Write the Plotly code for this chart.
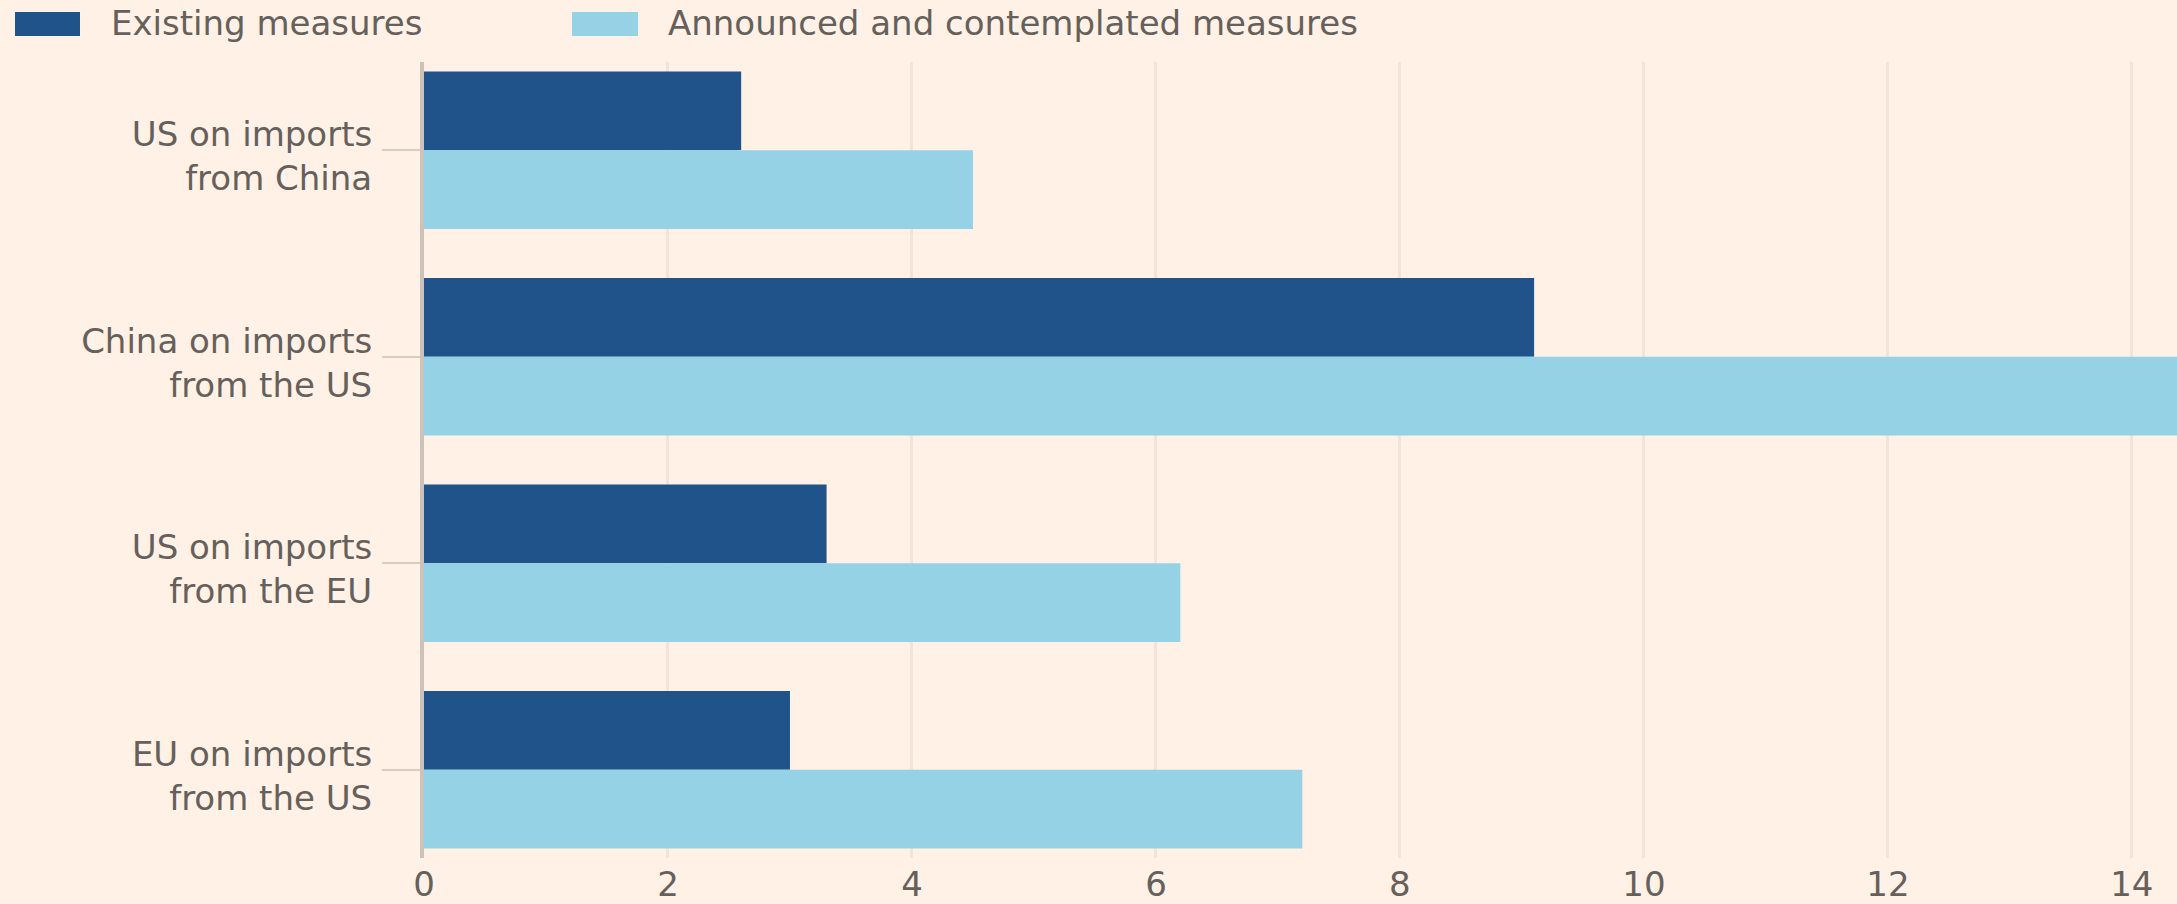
import plotly.graph_objects as go

# Values
categories = [
    "US on imports<br>from China",
    "China on imports<br>from the US",
    "US on imports<br>from the EU",
    "EU on imports<br>from the US",
]
existing = [2.6, 9.1, 3.3, 3.0]
announced = [4.5, 14.6, 6.2, 7.2]
series_names = ["Existing measures", "Announced and contemplated measures"]
x_ticks = [0, 2, 4, 6, 8, 10, 12, 14]

BG = "#fff1e5"
DARK = "#1f538a"
LIGHT = "#96d2e6"
TEXT = "#66605c"
FONT = "DejaVu Sans"

W, H = 2177, 904
L, R, T, B = 424, 0, 62, 46
plot_w = W - L - R
plot_h = H - T - B


def px_x(p):
    return (p - L) / plot_w


def px_y(p):
    return 1 - (p - T) / plot_h


fig = go.Figure()
fig.add_trace(go.Bar(y=categories, x=existing, orientation="h", name=series_names[0],
                     marker=dict(color=DARK, line=dict(width=0))))
fig.add_trace(go.Bar(y=categories, x=announced, orientation="h", name=series_names[1],
                     marker=dict(color=LIGHT, line=dict(width=0))))

# hand-made legend with wide swatches like the original
legend_items = [(15, 80, 109), (572, 638, 666)]
for (sx0, sx1, tx), name, col in zip(legend_items, series_names, [DARK, LIGHT]):
    fig.add_shape(type="rect", xref="paper", yref="paper",
                  x0=px_x(sx0), x1=px_x(sx1), y0=px_y(36), y1=px_y(12),
                  fillcolor=col, line=dict(width=0))
    fig.add_annotation(text=name, xref="paper", yref="paper",
                       x=px_x(tx), y=px_y(23), xanchor="left", yanchor="middle",
                       showarrow=False, font=dict(family=FONT, size=34, color=TEXT))

fig.update_layout(
    width=W, height=H,
    margin=dict(l=L, r=R, t=T, b=B, pad=0),
    paper_bgcolor=BG, plot_bgcolor=BG,
    barmode="group", bargap=0.238, bargroupgap=0,
    showlegend=False,
    font=dict(family=FONT, size=34, color=TEXT),
)
fig.update_xaxes(
    range=[0, 14.37], tickvals=x_ticks, showgrid=True, gridcolor="#f2e4d8", gridwidth=3,
    zeroline=False, showline=False, ticks="outside", ticklen=0, ticklabelstandoff=-4,
    tickfont=dict(family=FONT, size=34, color=TEXT), automargin=False,
)
fig.update_yaxes(
    categoryorder="array", categoryarray=categories, range=[3.427, -0.427],
    showgrid=False, zeroline=False, showline=True, linecolor="#cdc2b8", linewidth=4,
    ticks="outside", ticklen=38, tickwidth=2, tickcolor="#d9cdc2", ticklabelstandoff=3,
    ticklabelshift=-6,
    tickfont=dict(family=FONT, size=34, color=TEXT), automargin=False,
)

# drop the browser's default page margin so the figure fills the window
fig.write_html("out.html", config={"displayModeBar": False}, post_script=(
    "document.body.style.margin='0';"
    "document.body.style.background='" + BG + "';"
    "document.body.style.overflow='hidden';"
))
